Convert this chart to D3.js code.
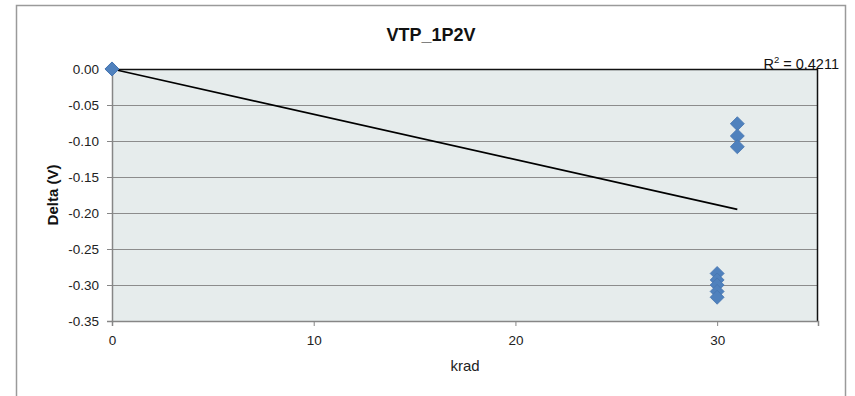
<!DOCTYPE html>
<html>
<head>
<meta charset="utf-8">
<script src="https://cdn.jsdelivr.net/npm/d3@7"></script>
<style>
  html, body { margin: 0; padding: 0; background: #ffffff; }
  svg { display: block; font-family: "Liberation Sans", Arial, sans-serif; }
</style>
</head>
<body>
<svg id="chart" width="855" height="396"></svg>
<script>
// Measured delta per device vs. total dose
const doseKrad = [0, 0, 0, 0, 0, 30, 30, 30, 30, 30, 31, 31, 31];
const deltaV   = [0, 0, 0, 0, 0, -0.284, -0.293, -0.300, -0.309, -0.317, -0.076, -0.093, -0.108];

// Linear trend line (Excel-style fit) and its label
const trendX = [0, 31];
const trendY = [0, -0.195];
const rSquaredText = "0.4211";

// Axis ticks
const xTicks = [0, 10, 20, 30];
const yTicks = [0, -0.05, -0.10, -0.15, -0.20, -0.25, -0.30, -0.35];

const chartTitle = "VTP_1P2V";
const xTitle = "krad";
const yTitle = "Delta (V)";

const svg = d3.select("#chart");
const W = 855, H = 396;
const plot = { left: 112, right: 818, top: 69, bottom: 321 };

const x = d3.scaleLinear().domain([0, 35]).range([plot.left, plot.right]);
const y = d3.scaleLinear().domain([-0.35, 0]).range([plot.bottom, plot.top]);

const locale = d3.formatLocale({ decimal: ".", thousands: ",", grouping: [3], currency: ["", ""], minus: "-" });
const fmtY = locale.format(".2f");

// Chart area frame
svg.append("path")
  .attr("d", `M16.5,${H + 2} V5.5 H845.5 V${H + 2}`)
  .attr("fill", "none")
  .attr("stroke", "#9a9a9a")
  .attr("stroke-width", 1.5);

// Plot area background
svg.append("rect")
  .attr("x", plot.left).attr("y", plot.top)
  .attr("width", plot.right - plot.left).attr("height", plot.bottom - plot.top)
  .attr("fill", "#e6ecec");

// Horizontal gridlines
svg.append("g")
  .selectAll("line")
  .data(yTicks.filter(v => v !== 0 && v !== -0.35))
  .join("line")
  .attr("x1", plot.left).attr("x2", plot.right)
  .attr("y1", d => Math.round(y(d)) + 0.5).attr("y2", d => Math.round(y(d)) + 0.5)
  .attr("stroke", "#8c8c8c").attr("stroke-width", 1.2);

// Plot border on top and right
svg.append("path")
  .attr("d", `M${plot.left},${plot.top + 0.5} H${plot.right - 0.5} V${plot.bottom}`)
  .attr("fill", "none").attr("stroke", "#111").attr("stroke-width", 1.5);

// Y axis
const yAxis = svg.append("g")
  .attr("transform", `translate(${plot.left},0)`)
  .call(d3.axisLeft(y).tickValues(yTicks).tickFormat(fmtY).tickSizeOuter(0).tickSize(5).tickPadding(8));
// X axis
const xAxis = svg.append("g")
  .attr("transform", `translate(0,${plot.bottom})`)
  .call(d3.axisBottom(x).tickValues(xTicks).tickFormat(d => d).tickSizeOuter(0).tickSize(5).tickPadding(9));

[yAxis, xAxis].forEach(g => {
  g.select(".domain").attr("stroke", "#868686").attr("stroke-width", 1.5);
  g.selectAll(".tick line").attr("stroke", "#868686").attr("stroke-width", 1);
  g.selectAll(".tick text")
    .attr("fill", "#222")
    .style("font-family", "'Liberation Sans', Arial, sans-serif")
    .style("font-size", "13.5px");
});

// Trend line
svg.append("path")
  .datum(trendX.map((v, i) => [v, trendY[i]]))
  .attr("d", d3.line().x(d => x(d[0])).y(d => y(d[1])))
  .attr("fill", "none").attr("stroke", "#000").attr("stroke-width", 1.6);

// Data markers
svg.append("g")
  .selectAll("path")
  .data(doseKrad.map((v, i) => [v, deltaV[i]]))
  .join("path")
  .attr("transform", d => `translate(${x(d[0])},${y(d[1])})`)
  .attr("d", d3.symbol().type(d3.symbolDiamond2).size(125))
  .attr("fill", "#4f81bd").attr("stroke", "#4675b0").attr("stroke-width", 0.8);

// Titles
svg.append("text")
  .attr("x", 431).attr("y", 41)
  .attr("text-anchor", "middle")
  .style("font-weight", "bold").style("font-size", "18px")
  .attr("fill", "#111")
  .text(chartTitle);

svg.append("text")
  .attr("x", (plot.left + plot.right) / 2).attr("y", 371)
  .attr("text-anchor", "middle")
  .style("font-size", "15px").attr("fill", "#222")
  .text(xTitle);

svg.append("text")
  .attr("transform", `translate(58,${(plot.top + plot.bottom) / 2}) rotate(-90)`)
  .attr("text-anchor", "middle")
  .style("font-weight", "bold").style("font-size", "15px")
  .attr("fill", "#111")
  .text(yTitle);

// R-squared label
const r2 = svg.append("text")
  .attr("x", 839).attr("y", 69)
  .attr("text-anchor", "end")
  .style("font-size", "14.5px").attr("fill", "#111");
r2.append("tspan").text("R");
r2.append("tspan").attr("dy", -6).style("font-size", "9.5px").text("2");
r2.append("tspan").attr("dy", 6).text(" = " + rSquaredText);
</script>
</body>
</html>
